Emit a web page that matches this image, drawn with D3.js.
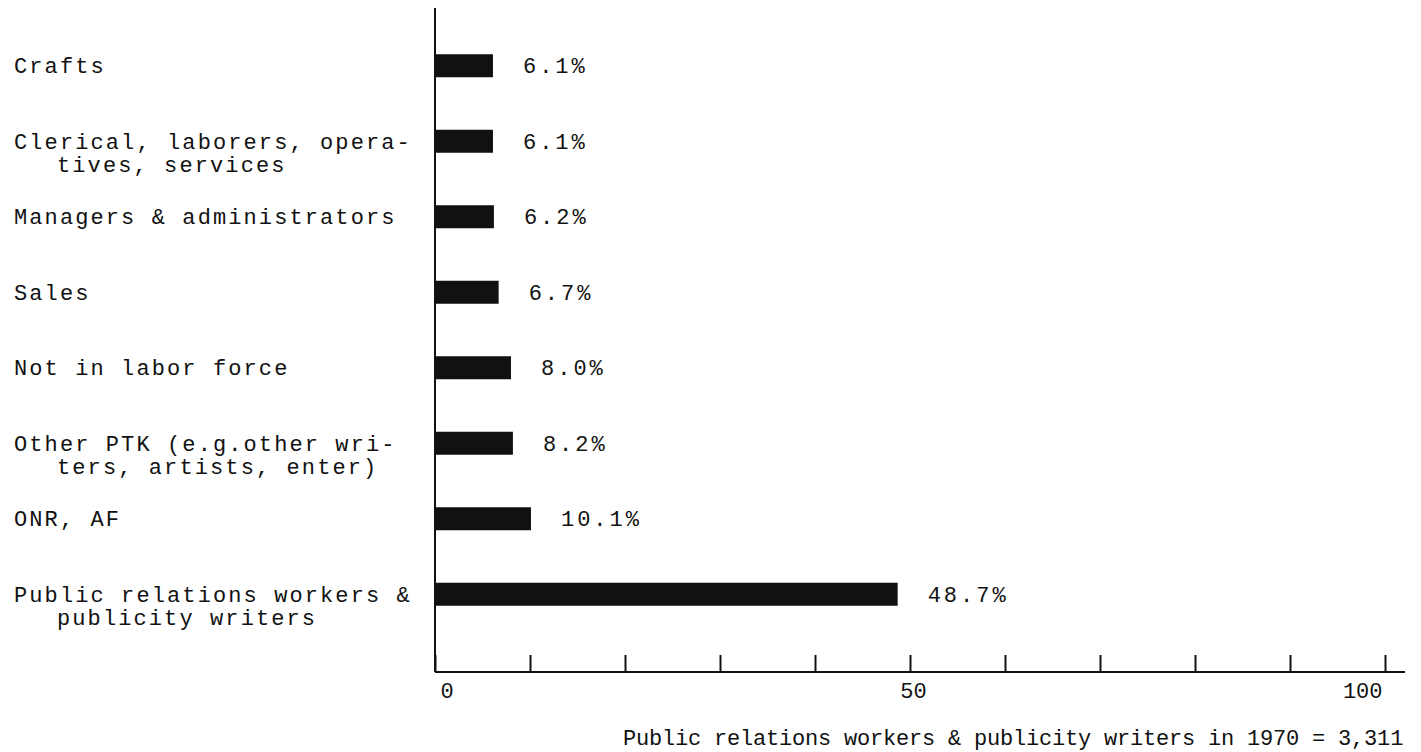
<!DOCTYPE html>
<html>
<head>
<meta charset="utf-8">
<script src="https://cdn.jsdelivr.net/npm/d3@7"></script>
<style>
  html, body { margin: 0; padding: 0; background: #fff; }
  svg text { font-family: "Liberation Mono", "DejaVu Sans Mono", monospace; fill: #111; }
</style>
</head>
<body>
<svg id="chart" width="1421" height="752"></svg>
<script>
// Occupation groups (each entry is one label; inner arrays are wrapped lines)
const categories = [
  ["Crafts"],
  ["Clerical, laborers, opera-", "tives, services"],
  ["Managers & administrators"],
  ["Sales"],
  ["Not in labor force"],
  ["Other PTK (e.g.other wri-", "ters, artists, enter)"],
  ["ONR, AF"],
  ["Public relations workers &", "publicity writers"]
];
// Share of 1970 PR workers & publicity writers, percent
const values = [6.1, 6.1, 6.2, 6.7, 8.0, 8.2, 10.1, 48.7];
const valueLabels = ["6.1%", "6.1%", "6.2%", "6.7%", "8.0%", "8.2%", "10.1%", "48.7%"];
const tickValues = [0, 10, 20, 30, 40, 50, 60, 70, 80, 90, 100];
const tickLabels = ["0", "", "", "", "", "50", "", "", "", "", "100"];
const caption = "Public relations workers & publicity writers in 1970 = 3,311";

const svg = d3.select("#chart");
const ink = "#111";
const fs = 22;

const x = d3.scaleLinear().domain([0, 100]).range([435, 1385]);
const y = d3.scalePoint().domain(d3.range(categories.length)).range([28, 632]).padding(0.5);
const axisY = 672;
const barH = 23;

// Vertical axis line
svg.append("line")
  .attr("x1", x(0)).attr("x2", x(0))
  .attr("y1", 8).attr("y2", axisY)
  .attr("stroke", ink).attr("stroke-width", 2);

// Bars
svg.append("g").selectAll("rect")
  .data(values)
  .join("rect")
  .attr("x", x(0))
  .attr("y", (d, i) => y(i) - barH / 2)
  .attr("width", d => x(d) - x(0))
  .attr("height", barH)
  .attr("fill", ink);

// Value labels
svg.append("g").selectAll("text")
  .data(values)
  .join("text")
  .attr("x", d => x(d) + 30)
  .attr("y", (d, i) => y(i))
  .attr("dy", "0.35em")
  .attr("font-size", fs)
  .attr("letter-spacing", 3)
  .text((d, i) => valueLabels[i]);

// Category labels
const cat = svg.append("g").selectAll("text")
  .data(categories)
  .join("text")
  .attr("y", (d, i) => y(i))
  .attr("font-size", fs)
  .attr("letter-spacing", 2.1);
cat.selectAll("tspan")
  .data(d => d)
  .join("tspan")
  .attr("x", (d, j) => j === 0 ? 14 : 57)
  .attr("dy", (d, j) => j === 0 ? "0.35em" : "1.05em")
  .text(d => d);

// Horizontal axis with upward ticks
const xAxis = d3.axisBottom(x)
  .tickValues(tickValues)
  .tickSizeInner(-17)
  .tickSizeOuter(0)
  .tickPadding(10)
  .tickFormat((d, i) => tickLabels[i]);
const gx = svg.append("g")
  .attr("transform", `translate(0,${axisY})`)
  .call(xAxis);
gx.select(".domain").remove();
gx.selectAll(".tick line").attr("stroke", ink).attr("stroke-width", 2);
gx.selectAll(".tick text")
  .attr("font-size", fs)
  .attr("font-family", "Liberation Mono, monospace")
  .attr("fill", ink)
  .attr("text-anchor", d => d === 0 ? "start" : d === 100 ? "end" : "middle")
  .attr("dx", d => d === 0 ? 5 : d === 100 ? -3 : 3);
svg.append("line")
  .attr("x1", x(0)).attr("x2", 1405)
  .attr("y1", axisY).attr("y2", axisY)
  .attr("stroke", ink).attr("stroke-width", 2);

// Caption under the axis
svg.append("text")
  .attr("x", 623)
  .attr("y", 745)
  .attr("font-size", fs)
  .attr("letter-spacing", -0.2)
  .text(caption);
</script>
</body>
</html>
